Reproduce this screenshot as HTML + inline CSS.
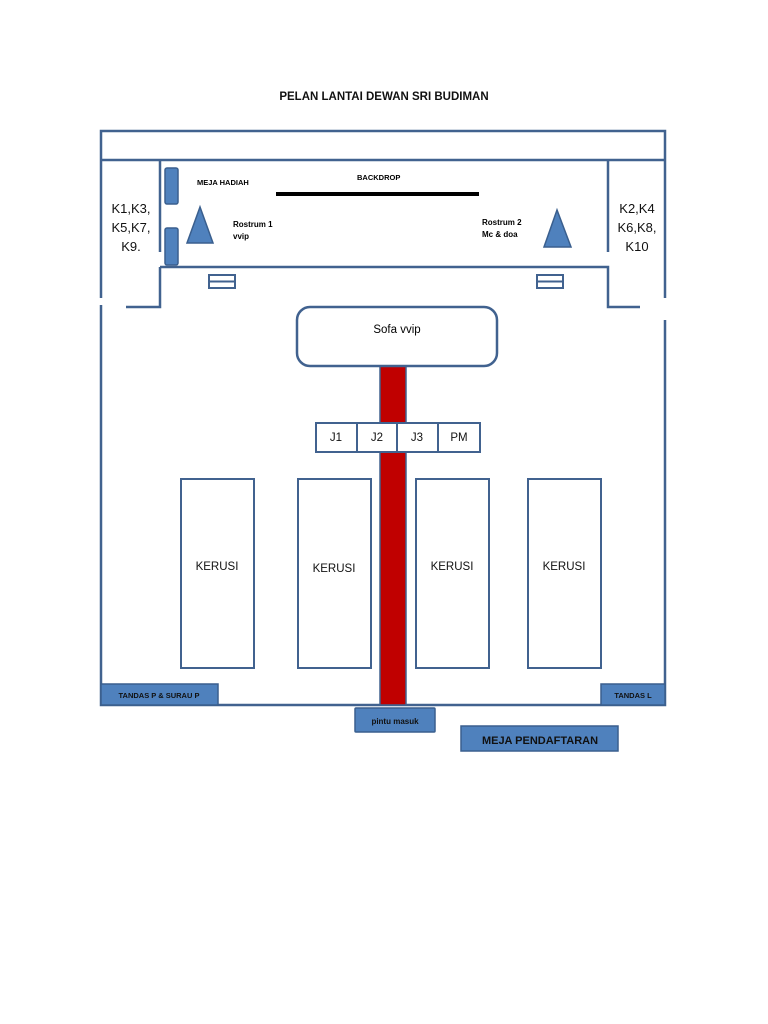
<!DOCTYPE html>
<html><head><meta charset="utf-8"><style>body{margin:0;background:#fff}svg{display:block}text{font-family:"Liberation Sans",sans-serif}</style></head><body>
<svg width="768" height="1024" viewBox="0 0 768 1024" xmlns="http://www.w3.org/2000/svg">
<rect width="768" height="1024" fill="#fff"/>
<text x="384" y="100" text-anchor="middle" font-size="11.5" font-weight="bold" fill="#111">PELAN LANTAI DEWAN SRI BUDIMAN</text>
<g stroke="#41628f" stroke-width="2.5" fill="none">
<path d="M101 298 V131 H665 V298"/>
<path d="M101 305 V705 H665 V320"/>
<path d="M101 160 H665"/>
<path d="M160 160 V252"/>
<path d="M608 160 V252"/>
<path d="M160 267 H608 V307 H640"/>
<path d="M160 267 V307 H126"/>
</g>
<g fill="#4f81bd" stroke="#3a5f8e" stroke-width="1.5">
<rect x="165" y="168" width="13" height="36" rx="2"/>
<rect x="165" y="228" width="13" height="37" rx="2"/>
<polygon points="200,207 187,243 213,243"/>
<polygon points="557,210 544,247 571,247"/>
</g>
<g fill="#fff" stroke="#41628f" stroke-width="2">
<rect x="209" y="275" width="26" height="13"/><line x1="209" y1="281.5" x2="235" y2="281.5"/>
<rect x="537" y="275" width="26" height="13"/><line x1="537" y1="281.5" x2="563" y2="281.5"/>
</g>
<line x1="276" y1="194" x2="479" y2="194" stroke="#000" stroke-width="4"/>
<text x="197" y="185" font-size="7.5" font-weight="bold">MEJA HADIAH</text>
<text x="357" y="180" font-size="7.5" font-weight="bold">BACKDROP</text>
<text x="233" y="227" font-size="8" font-weight="bold">Rostrum 1</text>
<text x="233" y="239" font-size="8" font-weight="bold">vvip</text>
<text x="482" y="225" font-size="8" font-weight="bold">Rostrum 2</text>
<text x="482" y="237" font-size="8" font-weight="bold">Mc &amp; doa</text>
<g font-size="13" text-anchor="middle" fill="#111">
<text x="131" y="213">K1,K3,</text><text x="131" y="232">K5,K7,</text><text x="131" y="251">K9.</text>
<text x="637" y="213">K2,K4</text><text x="637" y="232">K6,K8,</text><text x="637" y="251">K10</text>
</g>
<rect x="380" y="366" width="26" height="339" fill="#c00000" stroke="#41628f" stroke-width="1.5"/>
<rect x="297" y="307" width="200" height="59" rx="13" fill="#fff" stroke="#41628f" stroke-width="2.5"/>
<text x="397" y="333" text-anchor="middle" font-size="11.5">Sofa vvip</text>
<g fill="#fff" stroke="#41628f" stroke-width="2">
<rect x="316" y="423" width="164" height="29"/>
<line x1="357" y1="423" x2="357" y2="452"/><line x1="397" y1="423" x2="397" y2="452"/><line x1="438" y1="423" x2="438" y2="452"/>
<rect x="181" y="479" width="73" height="189"/>
<rect x="298" y="479" width="73" height="189"/>
<rect x="416" y="479" width="73" height="189"/>
<rect x="528" y="479" width="73" height="189"/>
</g>
<g font-size="11.5" text-anchor="middle" fill="#111">
<text x="336" y="441">J1</text><text x="377" y="441">J2</text><text x="417" y="441">J3</text><text x="459" y="441">PM</text>
<text x="217" y="570">KERUSI</text><text x="334" y="572">KERUSI</text><text x="452" y="570">KERUSI</text><text x="564" y="570">KERUSI</text>
</g>
<g fill="#4f81bd" stroke="#3a5f8e" stroke-width="1.5">
<rect x="101" y="684" width="117" height="21"/>
<rect x="601" y="684" width="64" height="21"/>
<rect x="355" y="708" width="80" height="24" rx="1"/>
<rect x="461" y="726" width="157" height="25"/>
</g>
<g fill="#111" font-weight="bold" text-anchor="middle">
<text x="159" y="698" font-size="7.5">TANDAS P &amp; SURAU P</text>
<text x="633" y="698" font-size="7.5">TANDAS L</text>
<text x="395" y="724" font-size="8">pintu masuk</text>
<text x="540" y="744" font-size="11">MEJA PENDAFTARAN</text>
</g>
</svg>
</body></html>
